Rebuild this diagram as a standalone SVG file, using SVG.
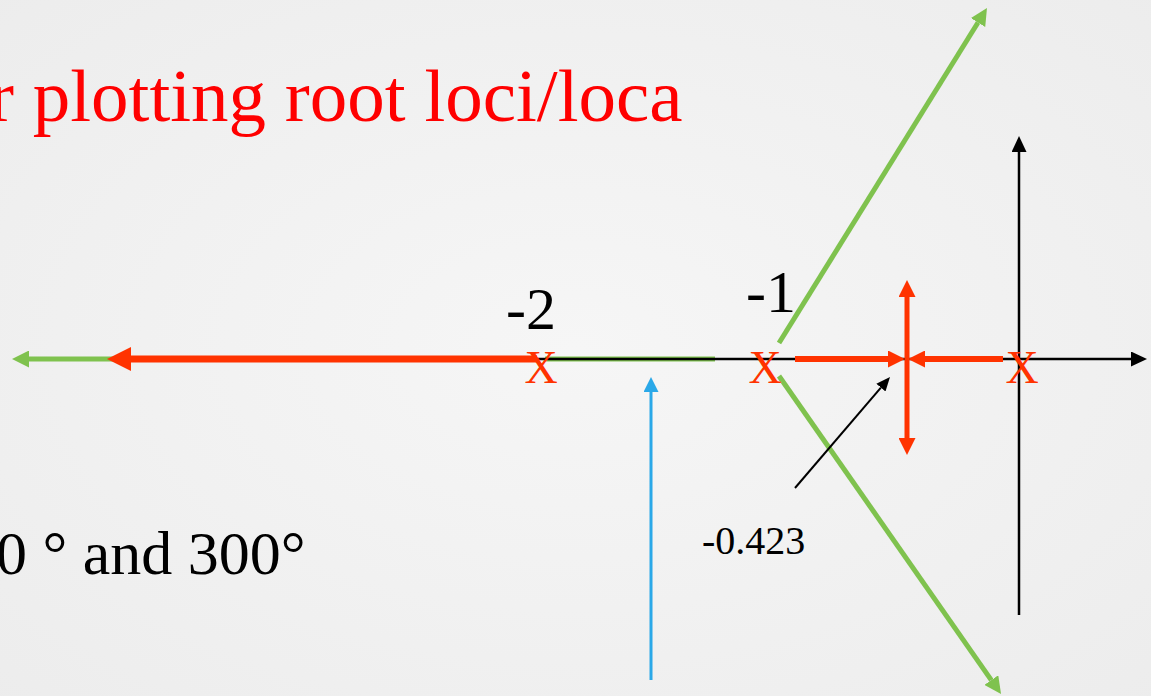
<svg xmlns="http://www.w3.org/2000/svg" width="1151" height="696" viewBox="0 0 1151 696">
  <style>
    .serif { font-family: "Liberation Serif", "Times New Roman", serif; }
    .title { font-size: 75px; fill: #ff0000; }
    .lbl { font-size: 60px; fill: #000000; }
    .ang { font-size: 62px; fill: #000000; }
    .small { font-size: 40px; fill: #000000; }
    .pole { font-size: 46px; fill: #ff3300; text-anchor: middle; }
    .red { stroke: #ff3300; fill: none; }
    .green { stroke: #7fc24e; fill: none; }
    .blk { stroke: #000000; fill: none; }
    .blue { stroke: #2aa8e8; fill: none; }
  </style>
  <defs>
    <radialGradient id="bg" cx="0.5" cy="0.5" r="0.75">
      <stop offset="0" stop-color="#f6f6f6"/>
      <stop offset="1" stop-color="#ececec"/>
    </radialGradient>
    <marker id="redBig" markerUnits="userSpaceOnUse" markerWidth="24" markerHeight="24" viewBox="0 0 24 24" refX="0" refY="12" orient="auto">
      <path d="M0,0 L24,12 L0,24 z" fill="#ff3300"/>
    </marker>
    <marker id="redSm" markerUnits="userSpaceOnUse" markerWidth="17" markerHeight="17" viewBox="0 0 17 17" refX="0" refY="8.5" orient="auto">
      <path d="M0,0 L17,8.5 L0,17 z" fill="#ff3300"/>
    </marker>
    <marker id="grn" markerUnits="userSpaceOnUse" markerWidth="17" markerHeight="17" viewBox="0 0 17 17" refX="0" refY="8.5" orient="auto">
      <path d="M0,0 L17,8.5 L0,17 z" fill="#7fc24e"/>
    </marker>
    <marker id="blkAx" markerUnits="userSpaceOnUse" markerWidth="16" markerHeight="15" viewBox="0 0 16 15" refX="0" refY="7.5" orient="auto">
      <path d="M0,0 L16,7.5 L0,15 z" fill="#000000"/>
    </marker>
    <marker id="blkSm" markerUnits="userSpaceOnUse" markerWidth="14" markerHeight="12" viewBox="0 0 14 12" refX="0" refY="6" orient="auto">
      <path d="M0,0 L14,6 L0,12 z" fill="#000000"/>
    </marker>
    <marker id="blu" markerUnits="userSpaceOnUse" markerWidth="15" markerHeight="15" viewBox="0 0 15 15" refX="0" refY="7.5" orient="auto">
      <path d="M0,0 L15,7.5 L0,15 z" fill="#2aa8e8"/>
    </marker>
  </defs>
  <rect x="0" y="0" width="1151" height="696" fill="url(#bg)"/>

  <g id="title">
    <text class="serif title" x="-11" y="121">r plotting root loci/loca</text>
  </g>
  <g id="angles-text">
    <text class="serif ang" x="-4" y="574">0 ° and 300°</text>
  </g>

  <g id="connectors">
    <line class="green" x1="130" y1="359" x2="29" y2="359" stroke-width="5" marker-end="url(#grn)"/>
    <line class="red" x1="537" y1="359" x2="131" y2="359" stroke-width="7" marker-end="url(#redBig)"/>
    <line class="green" x1="545" y1="359" x2="715" y2="359" stroke-width="5"/>
    <line class="blk" x1="537" y1="359" x2="1131" y2="359" stroke-width="2.5" marker-end="url(#blkAx)"/>
    <line class="blk" x1="1019" y1="615" x2="1019" y2="152" stroke-width="2.5" marker-end="url(#blkAx)"/>
    <line class="red" x1="795" y1="359" x2="888" y2="359" stroke-width="6" marker-end="url(#redSm)"/>
    <line class="red" x1="1003" y1="359" x2="925" y2="359" stroke-width="6" marker-end="url(#redSm)"/>
    <line class="red" x1="907" y1="359" x2="907" y2="297" stroke-width="5" marker-end="url(#redSm)"/>
    <line class="red" x1="907" y1="359" x2="907" y2="438" stroke-width="5" marker-end="url(#redSm)"/>
    <line class="green" x1="779" y1="343" x2="978" y2="22.5" stroke-width="5" marker-end="url(#grn)"/>
    <line class="green" x1="779" y1="376" x2="991.3" y2="680.1" stroke-width="5" marker-end="url(#grn)"/>
    <line class="blk" x1="795" y1="488" x2="880.9" y2="387.6" stroke-width="2" marker-end="url(#blkSm)"/>
    <line class="blue" x1="651" y1="680" x2="651" y2="392" stroke-width="3" marker-end="url(#blu)"/>
  </g>

  <g id="pole-m2">
    <text class="serif pole" x="541" y="383">X</text>
    <text class="serif lbl" x="506" y="329">-2</text>
  </g>
  <g id="pole-m1">
    <text class="serif pole" x="765" y="383">X</text>
    <text class="serif lbl" x="746" y="312">-1</text>
  </g>
  <g id="pole-0">
    <text class="serif pole" x="1022" y="383">X</text>
  </g>
  <g id="breakaway-label">
    <text class="serif small" x="702" y="554">-0.423</text>
  </g>
</svg>
